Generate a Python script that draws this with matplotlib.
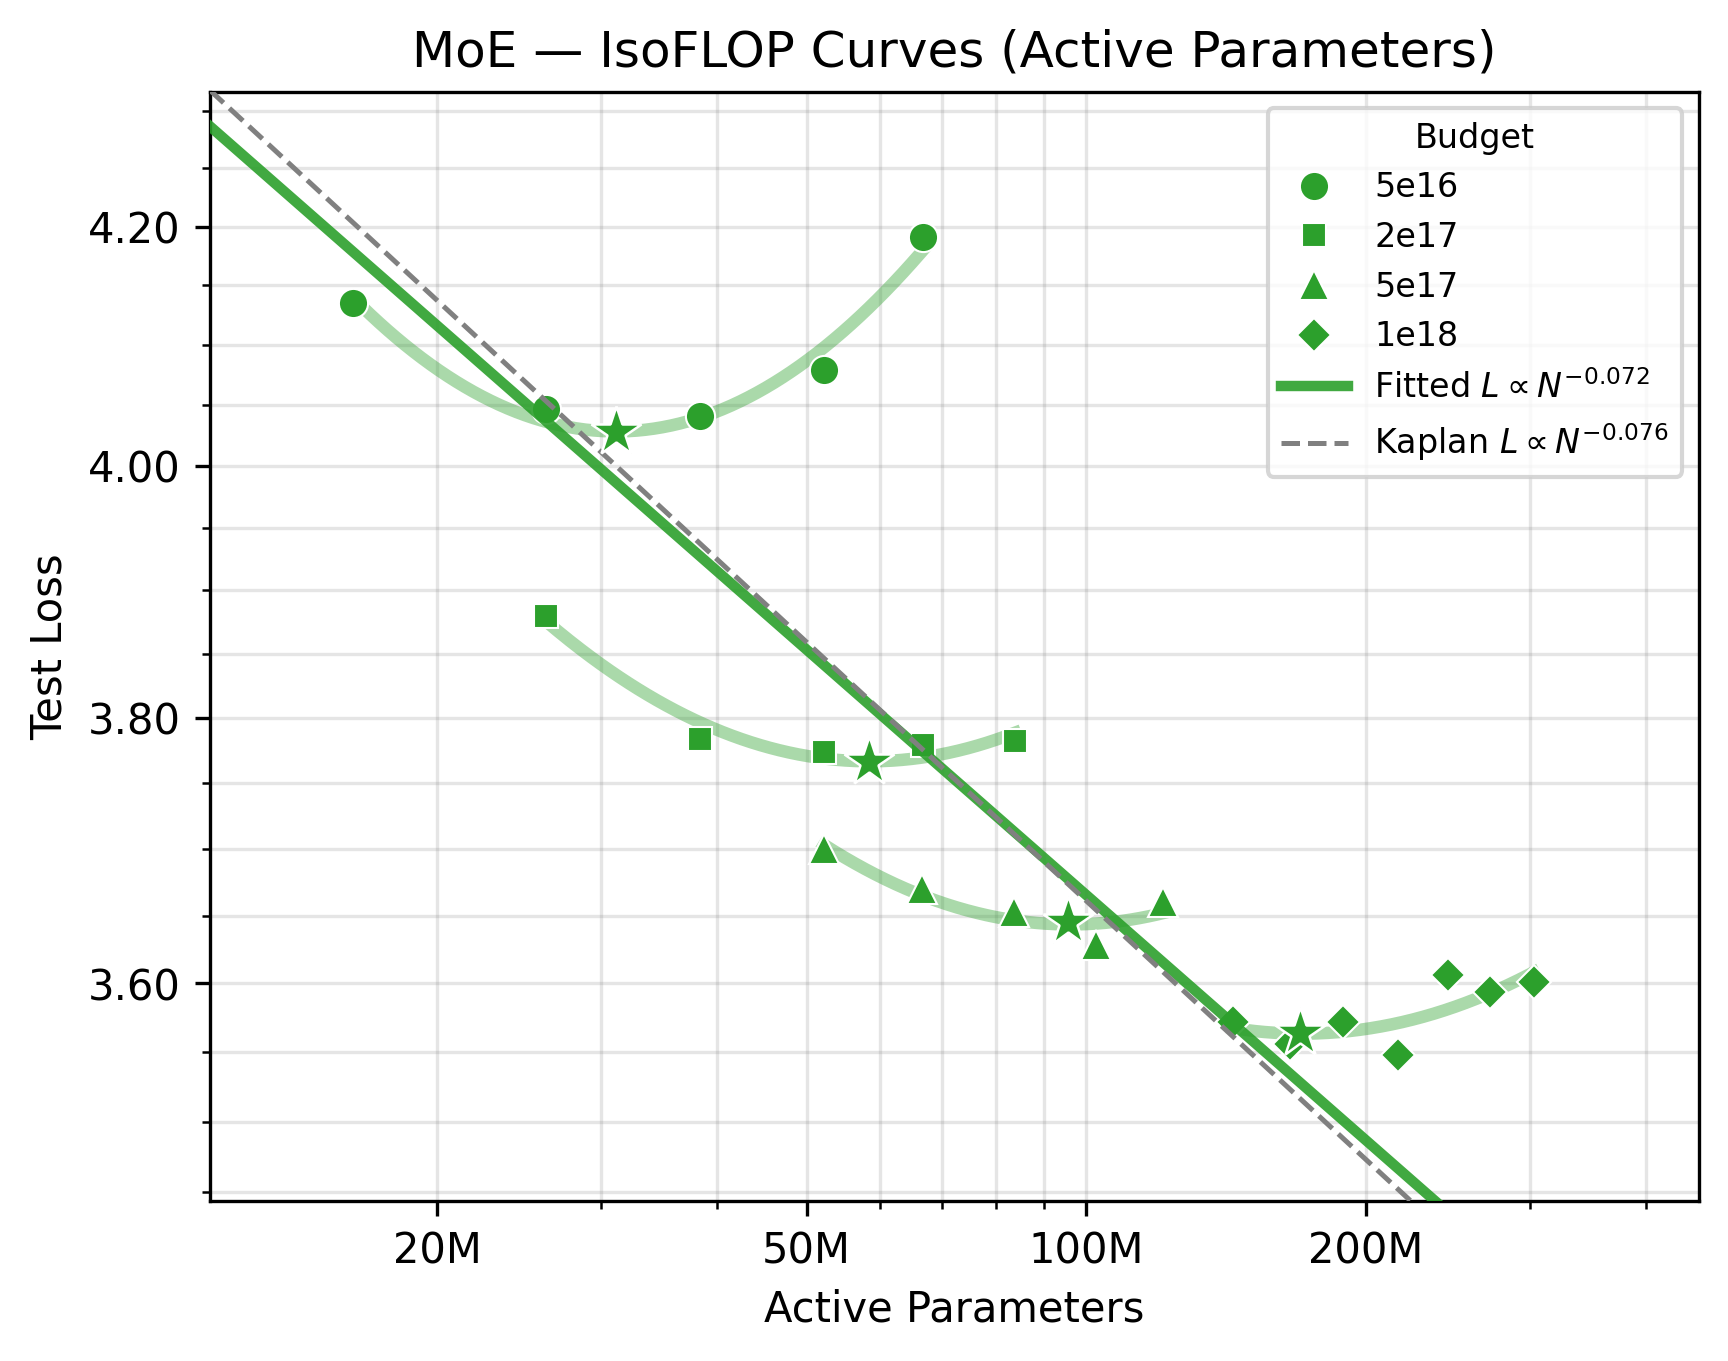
import numpy as np
import matplotlib
matplotlib.use("Agg")
import matplotlib.pyplot as plt
from matplotlib.ticker import FixedLocator, FuncFormatter, NullFormatter

# data (active params in M, test loss)
budgets = ["5e16", "2e17", "5e17", "1e18"]
markers = ["o", "s", "^", "D"]

params_5e16 = [16.25, 26.2, 38.4, 52.2, 66.7]
loss_5e16 = [4.135, 4.047, 4.041, 4.079, 4.191]

params_2e17 = [26.2, 38.4, 52.2, 66.7, 83.8]
loss_2e17 = [3.880, 3.784, 3.774, 3.779, 3.782]

params_5e17 = [52.2, 66.5, 83.6, 102.5, 121.0]
loss_5e17 = [3.700, 3.670, 3.653, 3.628, 3.660]

params_1e18 = [143.8, 165.8, 189.0, 216.8, 245.0, 272.0, 303.0]
loss_1e18 = [3.572, 3.556, 3.572, 3.548, 3.606, 3.594, 3.601]

opt_params = [31.2, 58.4, 95.5, 170.0]
opt_loss = [4.028, 3.766, 3.645, 3.564]

kaplan_exp = 0.076

all_params = [params_5e16, params_2e17, params_5e17, params_1e18]
all_loss = [loss_5e16, loss_2e17, loss_5e17, loss_1e18]

green = "#2ca02c"

fig = plt.figure(figsize=(5.76, 4.537), dpi=300)
ax = fig.add_axes([0.1215, 0.1176, 0.9832 - 0.1215, 0.9326 - 0.1176])

for name, m, xs, ys in zip(budgets, markers, all_params, all_loss):
    xs = np.array(xs) * 1e6
    ys = np.array(ys)
    lx = np.log10(xs)
    coef = np.polyfit(lx, ys, 2)
    xx = np.linspace(lx.min(), lx.max(), 200)
    ax.plot(10 ** xx, np.polyval(coef, xx), color=green, alpha=0.4, lw=3, zorder=2)
    ms = 7 if m in ("o", "^") else 5.8
    ax.plot(xs, ys, m, color=green, ms=ms, mec="white", mew=0.5, label=name, zorder=3)

opt_x = np.array(opt_params) * 1e6
opt_y = np.array(opt_loss)
ax.plot(opt_x, opt_y, "*", color=green, ms=12.5, mec="white", mew=0.6, zorder=4)

# power-law fit through the optima
slope, icpt = np.polyfit(np.log(opt_x), np.log(opt_y), 1)
xlim = (11.39e6, 456.6e6)
nn = np.logspace(np.log10(xlim[0]), np.log10(xlim[1]), 200)
ax.plot(nn, np.exp(icpt) * nn ** slope, color=green, alpha=0.9, lw=2.5,
        label=r"Fitted $L \propto N^{-%.3f}$" % -slope, zorder=3)

n0 = np.exp(np.mean(np.log(opt_x)))
l0 = np.exp(icpt) * n0 ** slope
ax.plot(nn, l0 * (nn / n0) ** -kaplan_exp, "--", color="gray", lw=1.2,
        label=r"Kaplan $L \propto N^{-%.3f}$" % kaplan_exp, zorder=3)

ax.set_xscale("log")
ax.set_yscale("log")
ax.set_xlim(*xlim)
ax.set_ylim(3.444, 4.317)

ax.xaxis.set_major_locator(FixedLocator([20e6, 50e6, 100e6, 200e6]))
ax.xaxis.set_major_formatter(FuncFormatter(lambda v, p: "%dM" % round(v / 1e6)))
ax.xaxis.set_minor_formatter(NullFormatter())

ax.yaxis.set_major_locator(FixedLocator([3.6, 3.8, 4.0, 4.2]))
ax.yaxis.set_major_formatter(FuncFormatter(lambda v, p: "%.2f" % v))
ax.yaxis.set_minor_locator(FixedLocator(np.arange(3.45, 4.32, 0.05)))
ax.yaxis.set_minor_formatter(NullFormatter())

ax.grid(True, which="both", color="gray", alpha=0.2, lw=0.8)
ax.tick_params(labelsize=10)

ax.set_xlabel("Active Parameters", fontsize=10)
ax.set_ylabel("Test Loss", fontsize=10)
ax.set_title("MoE — IsoFLOP Curves (Active Parameters)", fontsize=12)

ax.legend(title="Budget", fontsize=8, title_fontsize=8, loc="upper right")

fig.savefig("out.png", dpi=300)
